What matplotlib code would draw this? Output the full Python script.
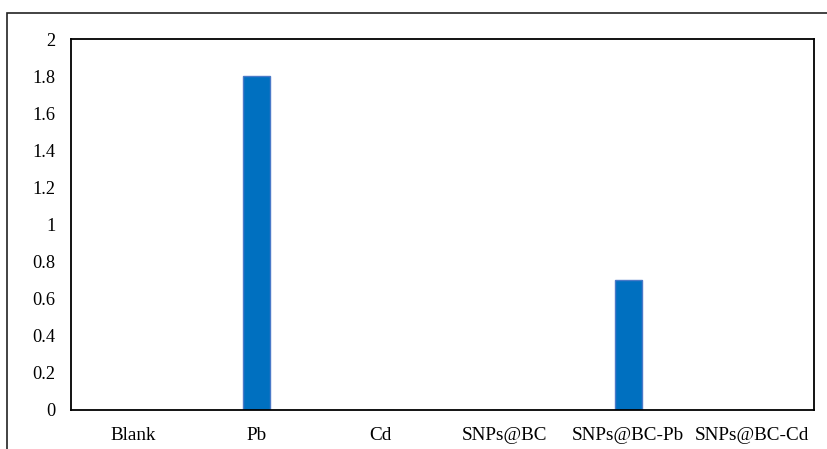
import matplotlib.pyplot as plt
from matplotlib.patches import Rectangle

categories = ['Blank', 'Pb', 'Cd', 'SNPs@BC', 'SNPs@BC-Pb', 'SNPs@BC-Cd']
values = [0, 1.8, 0, 0, 0.7, 0]
yticks = [0, 0.2, 0.4, 0.6, 0.8, 1, 1.2, 1.4, 1.6, 1.8, 2]
ytick_labels = ['0', '0.2', '0.4', '0.6', '0.8', '1', '1.2', '1.4', '1.6', '1.8', '2']

plt.rcParams['font.family'] = ['Liberation Serif', 'DejaVu Serif']

fig = plt.figure(figsize=(8.28, 4.49), dpi=100)
ax = fig.add_axes([71 / 828, 1 - 410 / 449, 743 / 828, 371 / 449])

x = list(range(len(categories)))
ax.bar(x, values, width=0.22, color='#0070C0', edgecolor='#4a7ac8', linewidth=1)

ax.set_xlim(-0.5, len(categories) - 0.5)
ax.set_ylim(0, 2)
ax.set_xticks(x)
ax.set_xticklabels(categories, fontsize=13.8)
ax.set_yticks(yticks)
ax.set_yticklabels(ytick_labels, fontsize=13.2)
ax.tick_params(length=0)
ax.tick_params(axis='y', pad=11)
ax.tick_params(axis='x', pad=12)
for s in ax.spines.values():
    s.set_linewidth(1.3)
    s.set_color('black')

# outer chart frame
fig.patches.append(Rectangle((7 / 828, -0.1), 1.2, 1 - 13 / 449 + 0.1,
                             transform=fig.transFigure, fill=False,
                             edgecolor='#222222', linewidth=1.2))

fig.savefig('out.png', dpi=100)
